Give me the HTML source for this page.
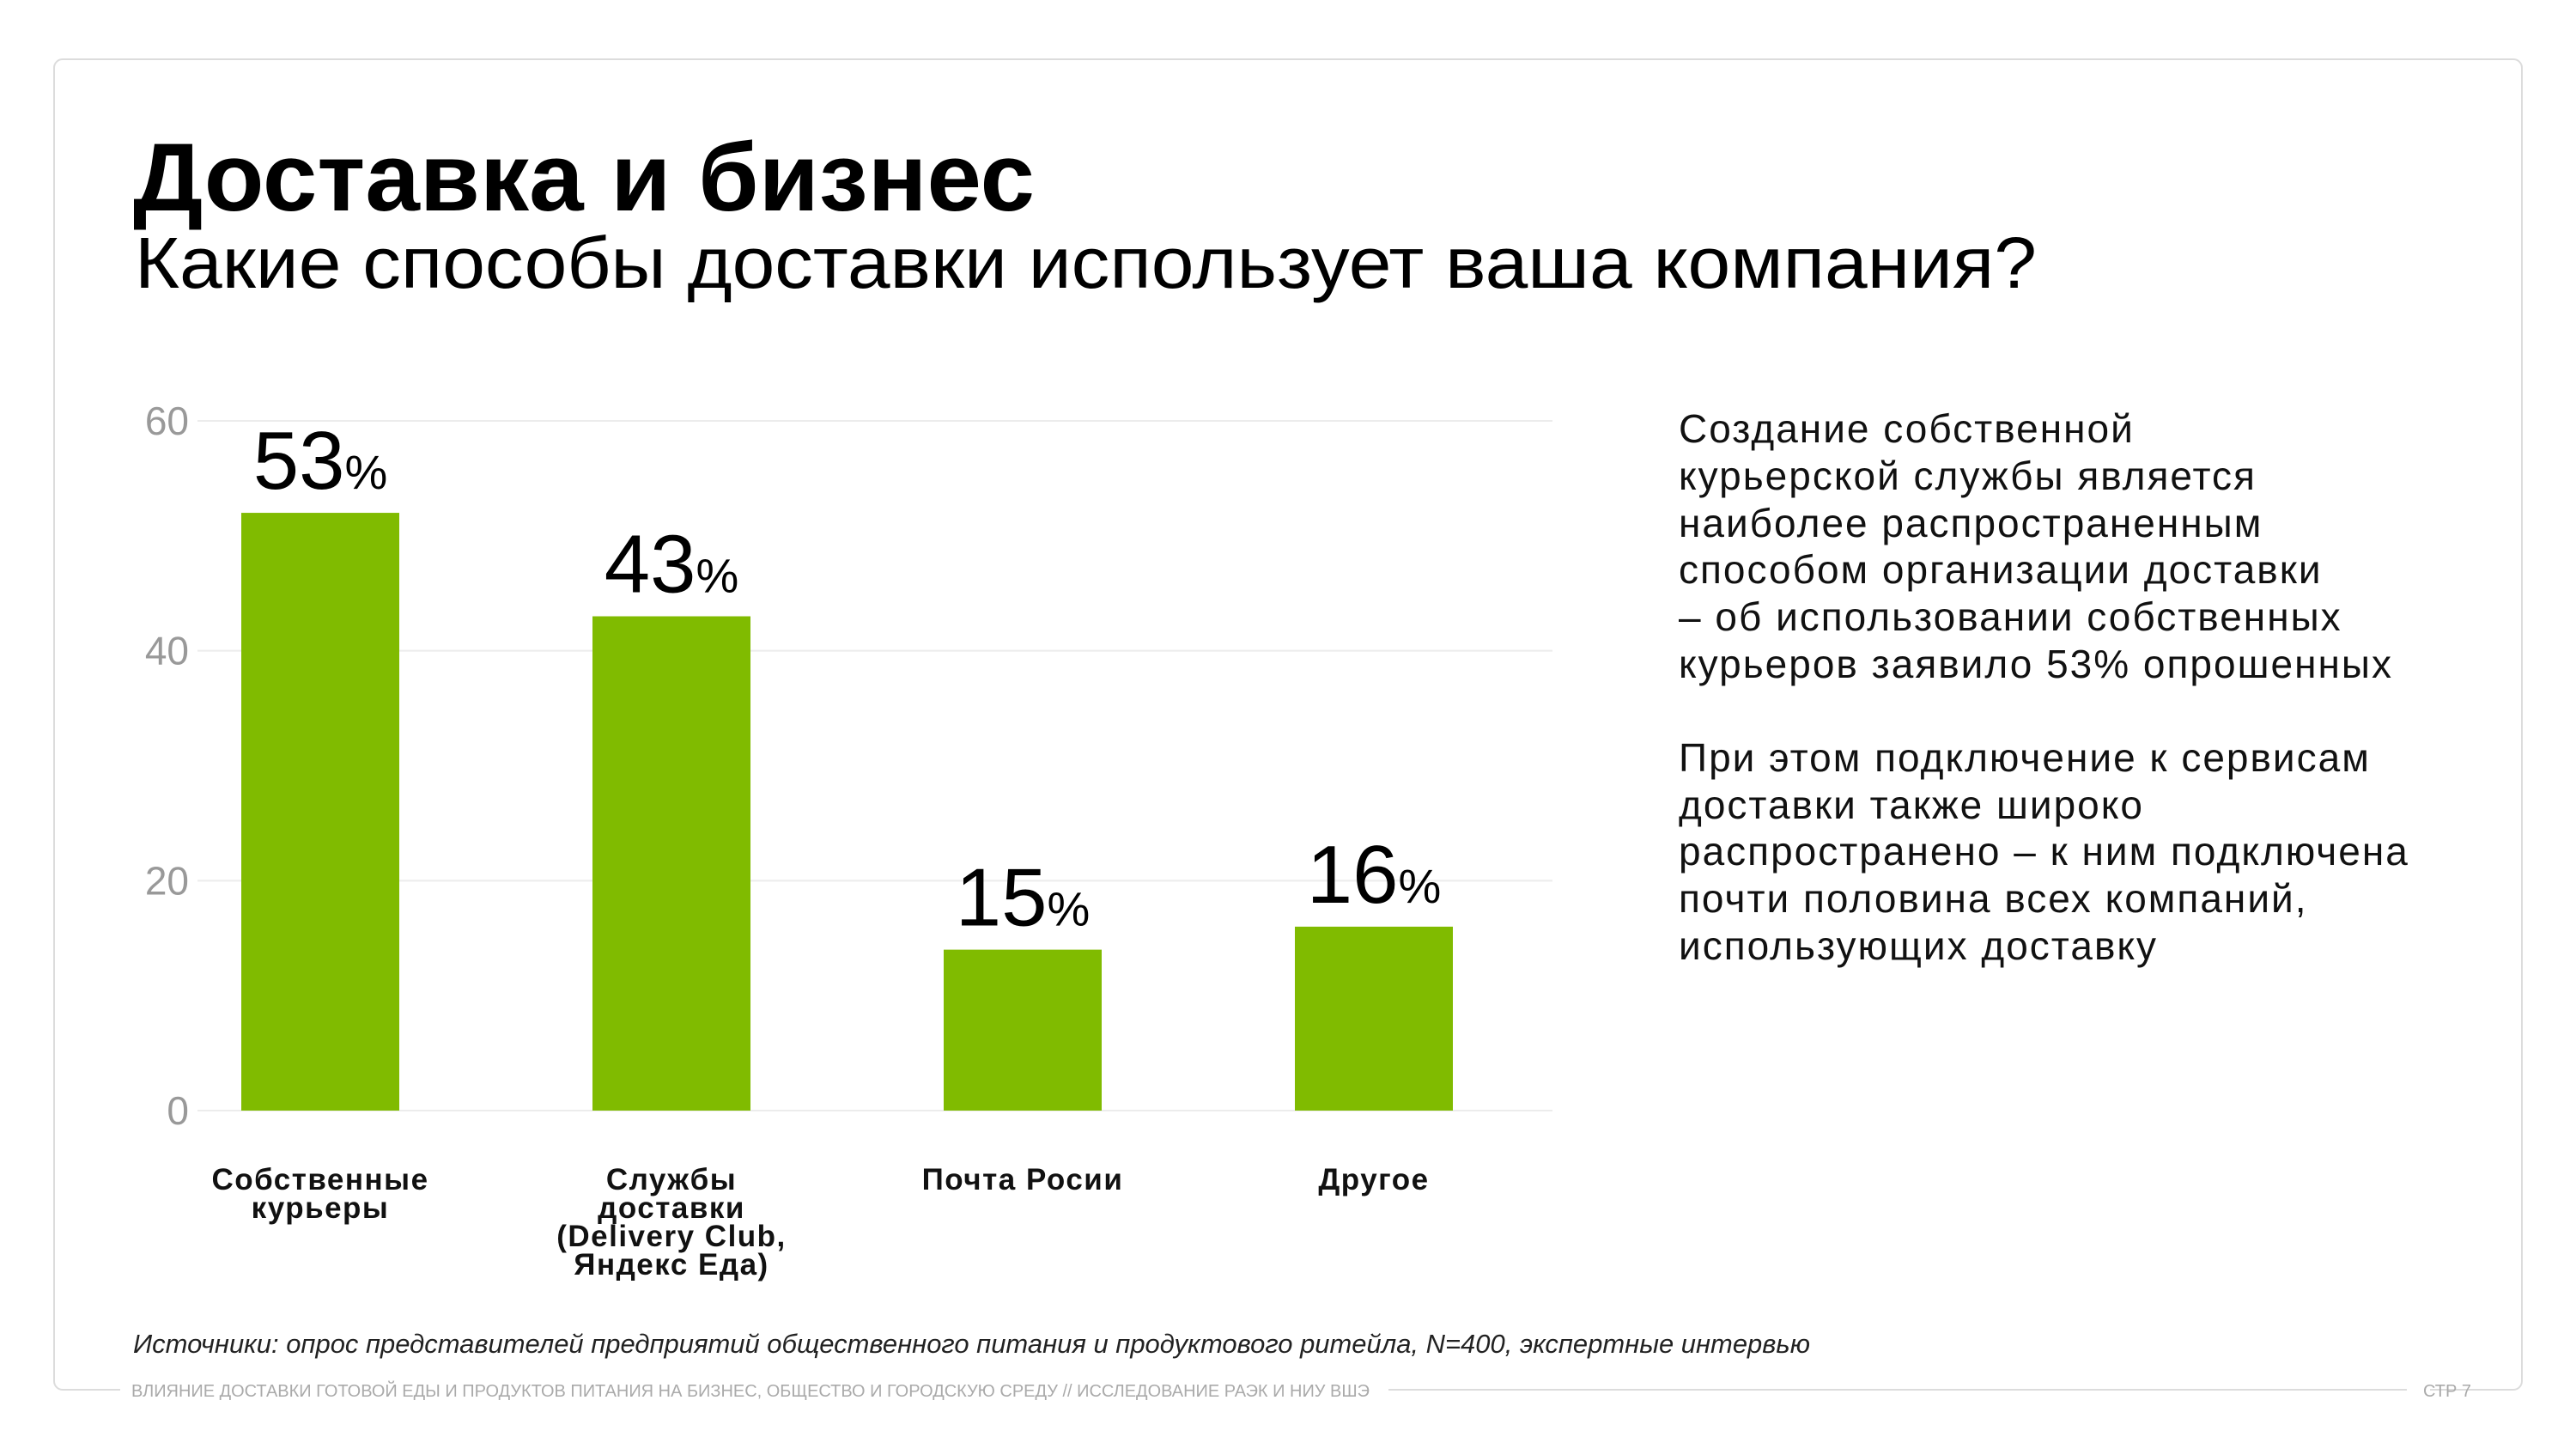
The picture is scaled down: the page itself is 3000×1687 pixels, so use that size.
<!DOCTYPE html>
<html><head><meta charset="utf-8"><style>
html,body{margin:0;padding:0;background:#fff;}
svg{display:block;font-family:"Liberation Sans","Noto Sans CJK SC",sans-serif;}
</style></head><body>
<svg id="chart" width="3000" height="1687" viewBox="0 0 3000 1687">
<rect x="63" y="69" width="2874" height="1549" rx="10" fill="none" stroke="#dcdcdc" stroke-width="2"/>
<rect x="140" y="1605" width="2690" height="26" fill="#fff"/>
<text x="155" y="245" font-size="112" font-weight="bold" fill="#000" textLength="1050" lengthAdjust="spacingAndGlyphs">Доставка и бизнес</text>
<text x="157" y="335" font-size="84" fill="#000" textLength="2215" lengthAdjust="spacingAndGlyphs">Какие способы доставки использует ваша компания?</text>
<g id="grid"></g>
<g id="bars"></g>
<g font-size="46" fill="#111" letter-spacing="2">
<text x="1955" y="515">Создание собственной</text>
<text x="1955" y="570">курьерской службы является</text>
<text x="1955" y="625">наиболее распространенным</text>
<text x="1955" y="679">способом организации доставки</text>
<text x="1955" y="734">– об использовании собственных</text>
<text x="1955" y="789">курьеров заявило 53% опрошенных</text>
<text x="1955" y="898">При этом подключение к сервисам</text>
<text x="1955" y="953">доставки также широко</text>
<text x="1955" y="1007">распространено – к ним подключена</text>
<text x="1955" y="1062">почти половина всех компаний,</text>
<text x="1955" y="1117">использующих доставку</text>
</g>
<text x="155" y="1575" font-size="31" font-style="italic" fill="#222" textLength="1953" lengthAdjust="spacingAndGlyphs">Источники: опрос представителей предприятий общественного питания и продуктового ритейла, N=400, экспертные интервью</text>
<text x="153" y="1626" font-size="20" fill="#aaa" textLength="1442" lengthAdjust="spacingAndGlyphs">ВЛИЯНИЕ ДОСТАВКИ ГОТОВОЙ ЕДЫ И ПРОДУКТОВ ПИТАНИЯ НА БИЗНЕС, ОБЩЕСТВО И ГОРОДСКУЮ СРЕДУ // ИССЛЕДОВАНИЕ РАЭК И НИУ ВШЭ</text>
<line x1="1617" y1="1618" x2="2803" y2="1618" stroke="#dcdcdc" stroke-width="2"/>
<text x="2822" y="1626" font-size="20" fill="#aaa">СТР 7</text>
</svg>
<script>
const categories=[["Собственные","курьеры"],["Службы","доставки","(Delivery Club,","Яндекс Еда)"],["Почта Росии"],["Другое"]];
const values=[52,43,14,16];
const valueLabels=["53","43","15","16"];
const yTicks=[0,20,40,60];
const NS="http://www.w3.org/2000/svg";
function y(v){return 1293-(1293-490)*v/60;}
function xc(i){return 373+i*409;}
const bw=184;
function mk(tag,attrs,parent){const e=document.createElementNS(NS,tag);for(const k in attrs)e.setAttribute(k,attrs[k]);parent.appendChild(e);return e;}
const grid=document.getElementById('grid'),bars=document.getElementById('bars');
yTicks.forEach(t=>{
  const l=mk('line',{x1:230,x2:1808,y1:y(t),y2:y(t),stroke:'#ececec','stroke-width':2},grid);
  
  
  const tx=mk('text',{x:220,y:y(t)+16,'font-size':46,fill:'#999','text-anchor':'end'},grid);
  tx.textContent=t;
  
  
});
values.forEach((v,i)=>{
  const r=mk('rect',{x:xc(i)-bw/2,y:y(v),width:bw,height:y(0)-y(v),fill:'#80bb00'},bars);
  
  
  const t=mk('text',{x:xc(i),y:y(v)-28,'text-anchor':'middle',fill:'#000','font-size':96,'font-weight':300},bars);
  
  
  const s1=mk('tspan',{},t);s1.textContent=valueLabels[i];
  const s2=mk('tspan',{'font-size':56},t);s2.textContent='%';
  const c=mk('text',{x:xc(i),y:1385,'text-anchor':'middle','font-size':35,'font-weight':'bold','letter-spacing':1.5,fill:'#111'},bars);
  
  
  categories[i].forEach((ln,j)=>{const ts=mk('tspan',{x:xc(i),dy:j?33:0},c);ts.textContent=ln;});
});
</script>
</body></html>
